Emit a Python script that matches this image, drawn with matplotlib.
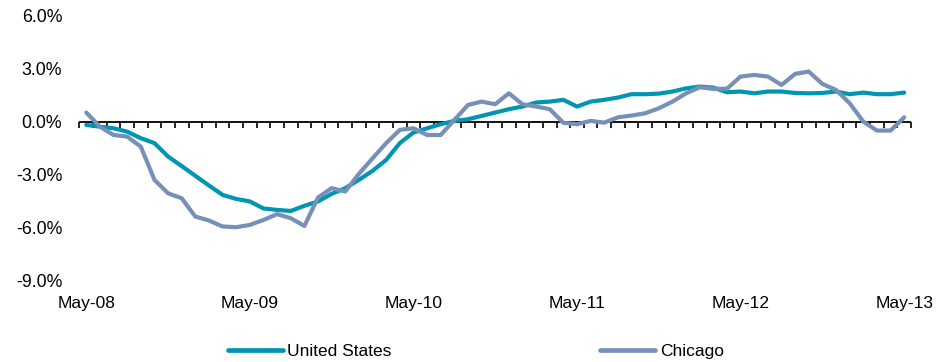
import matplotlib
matplotlib.use("Agg")
import matplotlib.pyplot as plt
import numpy as np

plt.rcParams['font.family'] = ['Liberation Sans', 'DejaVu Sans']

months = ["May-08", "May-09", "May-10", "May-11", "May-12", "May-13"]

us = [-0.17, -0.27, -0.36, -0.55, -0.92, -1.2, -1.96, -2.5, -3.05, -3.6, -4.13, -4.36,
      -4.5, -4.9, -4.98, -5.04, -4.75, -4.5, -4.07, -3.75, -3.28, -2.77, -2.15, -1.2,
      -0.6, -0.36, -0.13, 0.06, 0.15, 0.34, 0.53, 0.72, 0.87, 1.1, 1.15, 1.25,
      0.87, 1.15, 1.25, 1.38, 1.57, 1.57, 1.6, 1.72, 1.9, 2.0, 1.94, 1.68,
      1.72, 1.62, 1.72, 1.72, 1.64, 1.62, 1.64, 1.72, 1.57, 1.66, 1.57, 1.57, 1.66]

chicago = [0.53, -0.27, -0.74, -0.83, -1.4, -3.28, -4.04, -4.32, -5.36, -5.58, -5.92, -5.96,
           -5.83, -5.55, -5.22, -5.45, -5.89, -4.28, -3.75, -3.94, -2.94, -2.06, -1.2, -0.45,
           -0.36, -0.74, -0.74, 0.11, 0.96, 1.15, 1.0, 1.62, 1.0, 0.87, 0.72, -0.05,
           -0.13, 0.06, -0.04, 0.26, 0.36, 0.49, 0.77, 1.15, 1.62, 1.96, 1.87, 1.88,
           2.57, 2.66, 2.57, 2.09, 2.72, 2.85, 2.15, 1.81, 1.06, 0.02, -0.49, -0.49, 0.26]

yticks = [6.0, 3.0, 0.0, -3.0, -6.0, -9.0]

x = np.arange(len(us))

fig = plt.figure(figsize=(9.46, 3.62), dpi=100)
ax = fig.add_axes([0.084, 0.224, 0.879, 0.732])

l1, = ax.plot(x, us, color='#0096B1', lw=3.0, solid_capstyle='round', solid_joinstyle='round', label='United States', zorder=3)
l2, = ax.plot(x, chicago, color='#7690BA', lw=3.0, solid_capstyle='round', solid_joinstyle='round', label='Chicago', zorder=4)

ax.set_xlim(-0.5, len(us) - 0.5)
ax.set_ylim(-9, 6)
ax.set_yticks(yticks)
ax.set_yticklabels([f"{v:.1f}%" for v in yticks])
ax.tick_params(axis='y', length=0, pad=12.4, labelsize=12.8)

ax.set_xticks(np.arange(0, len(us), 12))
ax.set_xticklabels(months)
ax.tick_params(axis='x', length=0, pad=11, labelsize=12.5)

for s in ax.spines.values():
    s.set_visible(False)

ax.axhline(0, color='black', lw=1.3, zorder=2)
sec = ax.secondary_xaxis(9 / 15)
sec.set_xticks(np.arange(-0.5, len(us), 1))
sec.tick_params(axis='x', direction='out', length=4, width=1.2, labelbottom=False, labeltop=False,
                bottom=True, top=False, color='black')
sec.xaxis.set_ticks_position('bottom')
sec.set_xticklabels([])
for s in sec.spines.values():
    s.set_visible(False)

leg = fig.legend(handles=[l1, l2], loc='center', bbox_to_anchor=(0.503, 0.029), ncol=2,
                 frameon=False, fontsize=12.5, handlelength=3.17, handletextpad=0.27,
                 columnspacing=12.0, borderaxespad=0, borderpad=0)
for h in leg.legend_handles:
    h.set_linewidth(3.4)

fig.savefig("out.png", dpi=100)
